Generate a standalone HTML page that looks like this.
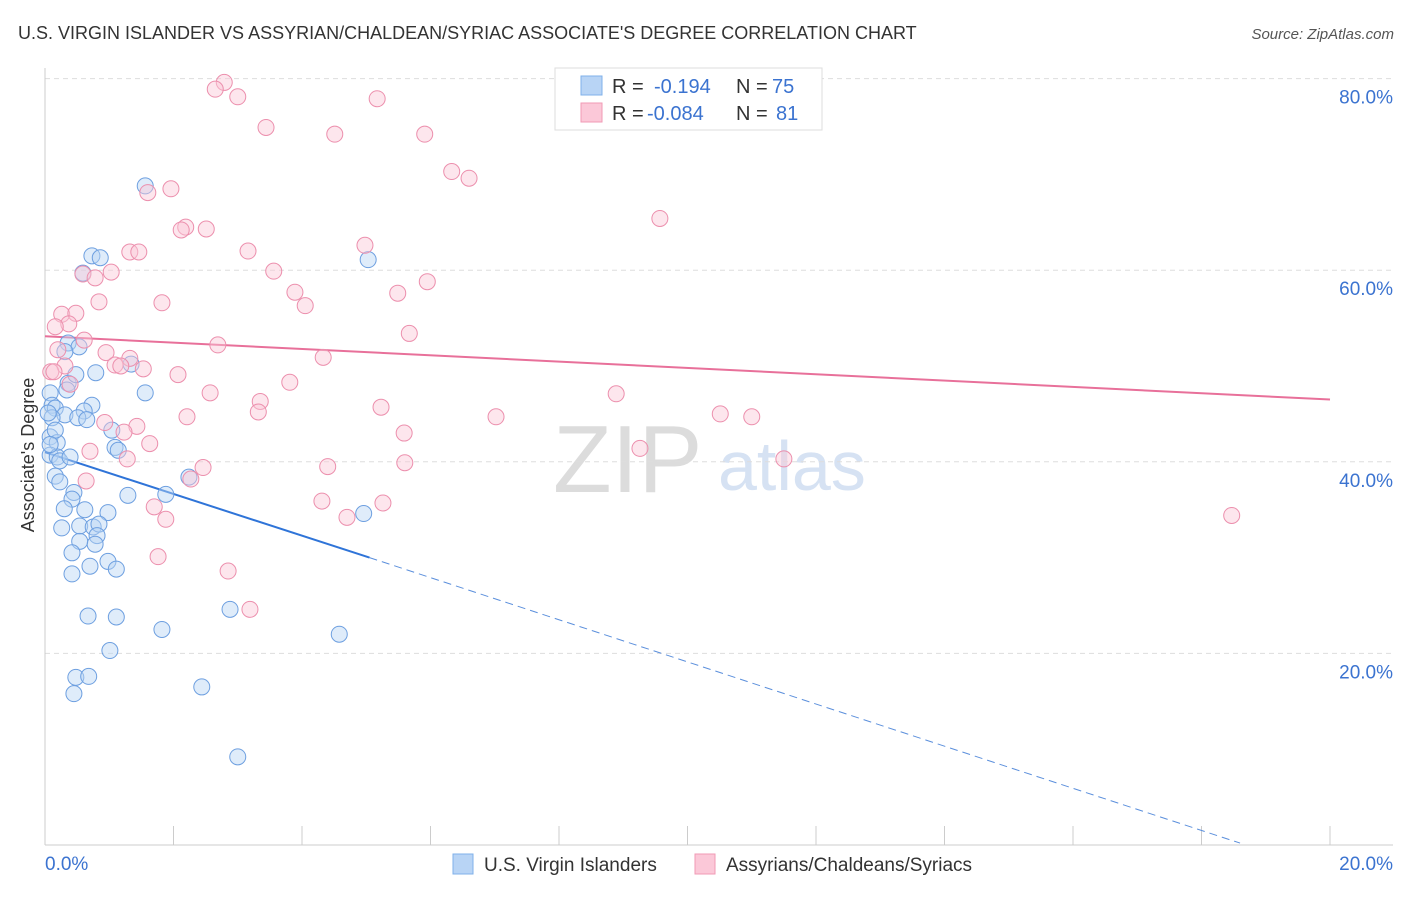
<!DOCTYPE html>
<html><head><meta charset="utf-8"><style>
body{margin:0;background:#fff;font-family:"Liberation Sans",sans-serif;}
svg text{font-family:"Liberation Sans",sans-serif;}
</style></head><body>
<svg id="chart" width="1406" height="892" xmlns="http://www.w3.org/2000/svg">
<text x="18" y="39" font-size="18" fill="#333">U.S. VIRGIN ISLANDER VS ASSYRIAN/CHALDEAN/SYRIAC ASSOCIATE'S DEGREE CORRELATION CHART</text>
<text x="1394" y="39" font-size="15" fill="#555" text-anchor="end" font-style="italic">Source: ZipAtlas.com</text>
<text x="553" y="492" font-size="96" fill="#dcdcdc" font-family="Liberation Serif">ZIP</text>
<text x="718" y="490" font-size="70" fill="#d6e2f3">atlas</text>
<g id="grid"></g>
<g id="axes"></g>
<g id="lines"></g>
<g id="pts"></g>
<text transform="translate(34,455) rotate(-90)" font-size="18" fill="#333" text-anchor="middle">Associate's Degree</text>
<g>
<rect x="555" y="68" width="267" height="62" fill="#fff" stroke="#ddd"/>
<rect x="581" y="76" width="21" height="19" fill="#b8d4f5" stroke="#7fb0ea"/>
<rect x="581" y="103" width="21" height="19" fill="#fbc8d8" stroke="#f09ab5"/>
<text x="612" y="93" font-size="20" fill="#333">R = </text><text x="654" y="93" font-size="20" fill="#3b73d0">-0.194</text>
<text x="736" y="93" font-size="20" fill="#333">N = </text><text x="772" y="93" font-size="20" fill="#3b73d0">75</text>
<text x="612" y="120" font-size="20" fill="#333">R = </text><text x="647" y="120" font-size="20" fill="#3b73d0">-0.084</text>
<text x="736" y="120" font-size="20" fill="#333">N = </text><text x="776" y="120" font-size="20" fill="#3b73d0">81</text>
</g>
<g>
<rect x="453" y="854" width="20" height="20" fill="#b8d4f5" stroke="#7fb0ea"/>
<text x="484" y="871" font-size="19" fill="#333">U.S. Virgin Islanders</text>
<rect x="695" y="854" width="20" height="20" fill="#fbc8d8" stroke="#f09ab5"/>
<text x="726" y="871" font-size="19" fill="#333">Assyrians/Chaldeans/Syriacs</text>
</g>
<text x="45" y="870" font-size="19" fill="#3b73d0">0.0%</text>
<text x="1393" y="870" font-size="19" fill="#3b73d0" text-anchor="end">20.0%</text>
</svg>
<script>
const yTicks=[20,40,60,80];
const yTickLabels=["20.0%","40.0%","60.0%","80.0%"];
const xTicks=[0,2,4,6,8,10,12,14,16,18,20];
const bluePx=[[145,186],[92,256],[100,258],[83,273],[368,260],[68,343],[79,347],[65,352],[96,373],[131,364],[145,393],[68,383],[67,390],[76,375],[50,393],[52,405],[55,408],[92,405],[84,411],[65,415],[78,418],[87,420],[52,418],[50,437],[57,443],[112,430],[115,447],[118,450],[50,455],[57,457],[60,461],[70,457],[55,476],[60,482],[74,492],[72,499],[128,495],[166,494],[189,477],[64,509],[85,510],[108,513],[364,514],[62,528],[80,526],[93,527],[99,524],[97,536],[95,544],[80,541],[72,553],[108,561],[90,566],[116,569],[72,574],[88,616],[116,617],[162,629],[230,609],[339,634],[110,651],[76,677],[89,676],[74,694],[202,687],[238,757],[55,430],[48,413],[50,445]];
const pinkPx=[[224,82],[215,89],[238,97],[377,99],[266,127],[335,134],[425,134],[452,172],[469,178],[171,189],[148,193],[660,218],[186,227],[181,230],[206,229],[130,252],[139,252],[365,245],[248,251],[274,271],[83,274],[111,272],[95,278],[427,282],[295,292],[398,293],[305,306],[99,302],[162,303],[62,314],[76,313],[69,324],[55,327],[409,333],[218,345],[84,340],[58,350],[106,353],[323,357],[130,358],[115,365],[121,366],[143,369],[65,366],[51,372],[54,372],[178,375],[290,382],[70,384],[616,394],[210,393],[260,401],[381,407],[258,412],[187,417],[496,417],[720,414],[752,417],[105,423],[137,426],[404,433],[124,432],[150,444],[90,451],[640,448],[784,459],[127,459],[203,468],[328,467],[405,463],[191,479],[86,481],[322,501],[383,503],[154,507],[166,519],[347,517],[1232,515],[158,557],[228,571],[250,609]];
const blueX=bluePx.map(p=>+((p[0]-45)/64.25).toFixed(2));
const blueY=bluePx.map(p=>+((845-p[1])/9.58).toFixed(1));
const pinkX=pinkPx.map(p=>+((p[0]-45)/64.25).toFixed(2));
const pinkY=pinkPx.map(p=>+((845-p[1])/9.58).toFixed(1));
const blueTrend=[[0,41.0],[5.05,30.0],[18.6,0.2]];
const pinkTrend=[[0,53.1],[20,46.5]];
const X=v=>45+v*64.25, Y=v=>845-v*9.58;
const NS="http://www.w3.org/2000/svg";
function mk(tag,attrs,parent){const e=document.createElementNS(NS,tag);for(const k in attrs)e.setAttribute(k,attrs[k]);document.getElementById(parent).appendChild(e);return e;}
yTicks.forEach((t,i)=>{
 const g=mk('line',{x1:45,x2:1393,y1:Y(t),y2:Y(t),stroke:'#ddd','stroke-dasharray':'5,4'},'grid');
 
 
 const l=mk('text',{x:1393,y:Y(t)+25,'font-size':19,fill:'#3b73d0','text-anchor':'end'},'axes');
 l.textContent=yTickLabels[i];
 
 
});
const ax=mk('line',{x1:45,x2:45,y1:68,y2:845,stroke:'#ccc'},'axes');


const bx=mk('line',{x1:45,x2:1393,y1:845,y2:845,stroke:'#ccc'},'axes');


xTicks.forEach(t=>{const e=mk('line',{x1:X(t),x2:X(t),y1:826,y2:845,stroke:'#ccc'},'axes');
 
 });
function pts(xs,ys,fill,stroke,name){xs.forEach((x,i)=>{const c=mk('circle',{cx:X(x),cy:Y(ys[i]),r:8,fill:fill,stroke:stroke,'stroke-width':1,'fill-opacity':0.45},'pts');
 
 });}
pts(blueX,blueY,'#b8d4f5','#6d9fe0','blue-point');
pts(pinkX,pinkY,'#fbc8d8','#ec8fad','pink-point');
let e=mk('line',{x1:X(blueTrend[0][0]),y1:Y(blueTrend[0][1]),x2:X(blueTrend[1][0]),y2:Y(blueTrend[1][1]),stroke:'#2f74d8','stroke-width':2},'lines');


e=mk('line',{x1:X(blueTrend[1][0]),y1:Y(blueTrend[1][1]),x2:X(blueTrend[2][0]),y2:Y(blueTrend[2][1]),stroke:'#5b8fdc','stroke-width':1,'stroke-dasharray':'8,5'},'lines');


e=mk('line',{x1:X(pinkTrend[0][0]),y1:Y(pinkTrend[0][1]),x2:X(pinkTrend[1][0]),y2:Y(pinkTrend[1][1]),stroke:'#e8709a','stroke-width':2},'lines');


</script>
</body></html>
